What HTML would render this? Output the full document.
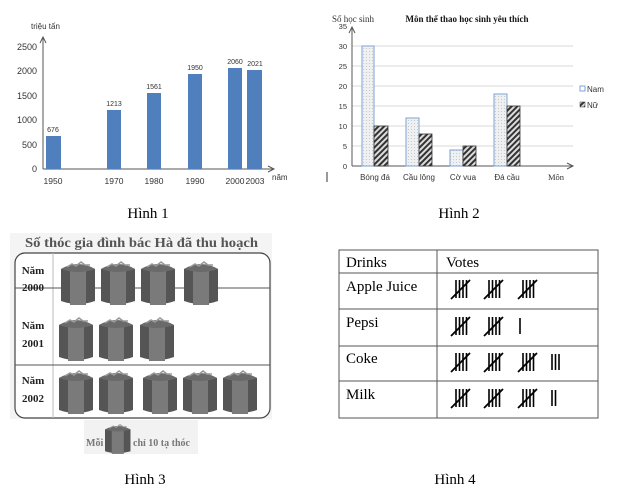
<!DOCTYPE html>
<html><head><meta charset="utf-8"><style>
html,body{margin:0;padding:0;background:#fff;width:618px;height:494px;overflow:hidden}
svg{display:block}
</style></head><body>
<svg width="618" height="494" viewBox="0 0 618 494" xmlns="http://www.w3.org/2000/svg">
<defs>
<pattern id="dots" width="3" height="3" patternUnits="userSpaceOnUse"><rect width="3" height="3" fill="#eef0f2"/><rect width="1" height="1" fill="#c8c8c8"/></pattern>
<pattern id="hatch" width="4" height="4" patternUnits="userSpaceOnUse" patternTransform="rotate(45)"><rect width="4" height="4" fill="#ddd"/><rect width="2" height="4" fill="#333"/></pattern>
<g id="cyl">
<path d="M0,8 Q17,0 34,8 L34,40 Q17,46 0,40 Z" fill="#555"/>
<rect x="9" y="8" width="16" height="36" fill="#7a7a7a"/>
<path d="M0,8 Q17,-2 34,8 Q17,14 0,8 Z" fill="#6a6a6a"/>
<path d="M6,6 l5,-3 l4,2 l5,-4 l4,3 l5,0" stroke="#999" fill="none" stroke-width="1.5"/>
</g>
<g id="tally" stroke="#000" stroke-width="1.6">
<line x1="5" y1="0" x2="5" y2="18"/><line x1="8.5" y1="0" x2="8.5" y2="18"/><line x1="12" y1="0" x2="12" y2="18"/><line x1="15.5" y1="0" x2="15.5" y2="18"/>
<line x1="0" y1="19" x2="19" y2="0" stroke-width="1.8"/>
</g>
</defs>

<!-- Chart 1 -->
<g font-family="Liberation Sans, sans-serif" fill="#333">
<text x="31" y="29" font-size="8">triệu tấn</text>
<line x1="43" y1="38" x2="43" y2="169" stroke="#555"/>
<path d="M40,43 L43,37 L46,43" fill="none" stroke="#555"/>
<line x1="43" y1="169" x2="274" y2="169" stroke="#555"/>
<path d="M268,166 L274,169 L268,172" fill="none" stroke="#555"/>
<g font-size="9" text-anchor="end">
<text x="37" y="50">2500</text><text x="37" y="74">2000</text><text x="37" y="99">1500</text><text x="37" y="123">1000</text><text x="37" y="148">500</text><text x="37" y="172">0</text>
</g>
<g fill="#4f7fbd">
<rect x="46" y="136" width="15" height="33"/>
<rect x="107" y="110" width="14" height="59"/>
<rect x="147" y="93" width="14" height="76"/>
<rect x="188" y="74" width="14" height="95"/>
<rect x="228" y="68" width="14" height="101"/>
<rect x="247" y="70" width="15" height="99"/>
</g>
<g font-size="7" text-anchor="middle">
<text x="53" y="132">676</text><text x="114" y="106">1213</text><text x="154" y="89">1561</text><text x="195" y="70">1950</text><text x="235" y="64">2060</text><text x="255" y="66">2021</text>
</g>
<g font-size="8.5" text-anchor="middle">
<text x="53" y="184">1950</text><text x="114" y="184">1970</text><text x="154" y="184">1980</text><text x="195" y="184">1990</text><text x="235" y="184">2000</text><text x="255" y="184">2003</text>
</g>
<text x="272" y="180" font-size="8">năm</text>
</g>
<text x="148" y="218" font-family="Liberation Serif, serif" font-size="15" text-anchor="middle">Hình 1</text>

<!-- Chart 2 -->
<g font-family="Liberation Sans, sans-serif" fill="#333">
<g stroke="#d8d8d8">
<line x1="352" y1="46" x2="573" y2="46"/><line x1="352" y1="66" x2="573" y2="66"/><line x1="352" y1="86" x2="573" y2="86"/><line x1="352" y1="106" x2="573" y2="106"/><line x1="352" y1="126" x2="573" y2="126"/><line x1="352" y1="146" x2="573" y2="146"/>
</g>
<line x1="352" y1="28" x2="352" y2="166" stroke="#555"/>
<path d="M349,33 L352,27 L355,33" fill="none" stroke="#555"/>
<line x1="352" y1="166" x2="573" y2="166" stroke="#555"/>
<path d="M567,163 L573,166 L567,169" fill="none" stroke="#555"/>
<text x="332" y="22" font-family="Liberation Serif, serif" font-size="9">Số học sinh</text>
<text x="467" y="22" font-family="Liberation Serif, serif" font-size="9" font-weight="bold" text-anchor="middle" fill="#111">Môn thể thao học sinh yêu thích</text>
<g font-size="7.5" text-anchor="end">
<text x="347" y="29">35</text><text x="347" y="49">30</text><text x="347" y="69">25</text><text x="347" y="89">20</text><text x="347" y="109">15</text><text x="347" y="129">10</text><text x="347" y="149">5</text><text x="347" y="169">0</text>
</g>
<g stroke="#7ea3d6" fill="url(#dots)">
<rect x="362" y="46" width="12" height="120"/>
<rect x="406" y="118" width="13" height="48"/>
<rect x="450" y="150" width="13" height="16"/>
<rect x="494" y="94" width="13" height="72"/>
</g>
<g stroke="#333" stroke-width="0.8" fill="url(#hatch)">
<rect x="374" y="126" width="14" height="40"/>
<rect x="419" y="134" width="13" height="32"/>
<rect x="463" y="146" width="13" height="20"/>
<rect x="507" y="106" width="13" height="60"/>
</g>
<g font-size="8" text-anchor="middle">
<text x="375" y="180">Bóng đá</text><text x="419" y="180">Cầu lông</text><text x="463" y="180">Cờ vua</text><text x="507" y="180">Đá cầu</text>
</g>
<text x="548" y="180" font-family="Liberation Serif, serif" font-size="8.5">Môn</text>
<rect x="580" y="86" width="5" height="5" fill="#fff" stroke="#7ea3d6"/>
<text x="587" y="92" font-size="8">Nam</text>
<rect x="580" y="102" width="5" height="5" fill="url(#hatch)" stroke="#333" stroke-width="0.5"/>
<text x="587" y="108" font-size="8">Nữ</text>
<line x1="327" y1="172" x2="327" y2="182" stroke="#333"/>
</g>
<text x="459" y="218" font-family="Liberation Serif, serif" font-size="15" text-anchor="middle">Hình 2</text>

<!-- Chart 3 -->
<rect x="10" y="233" width="262" height="186" fill="#f4f4f4"/>
<text x="25" y="247" font-family="Liberation Serif, serif" font-size="14" font-weight="bold" fill="#555" textLength="233" lengthAdjust="spacingAndGlyphs">Số thóc gia đình bác Hà đã thu hoạch</text>
<rect x="15" y="253" width="255" height="165" rx="10" fill="#fff" stroke="#444" stroke-width="1.2"/>
<line x1="53" y1="253" x2="53" y2="418" stroke="#bbb"/>
<line x1="15" y1="288" x2="270" y2="288" stroke="#555"/>
<line x1="15" y1="365" x2="270" y2="365" stroke="#555"/>
<g font-family="Liberation Serif, serif" font-size="11" font-weight="bold" fill="#222" text-anchor="middle">
<text x="33" y="274">Năm</text><text x="33" y="291">2000</text>
<text x="33" y="329">Năm</text><text x="33" y="347">2001</text>
<text x="33" y="384">Năm</text><text x="33" y="402">2002</text>
</g>
<use href="#cyl" x="61" y="261"/><use href="#cyl" x="101" y="261"/><use href="#cyl" x="141" y="261"/><use href="#cyl" x="184" y="261"/>
<use href="#cyl" x="59" y="317"/><use href="#cyl" x="99" y="317"/><use href="#cyl" x="140" y="317"/>
<use href="#cyl" x="59" y="370"/><use href="#cyl" x="99" y="370"/><use href="#cyl" x="143" y="370"/><use href="#cyl" x="183" y="370"/><use href="#cyl" x="223" y="370"/>
<rect x="84" y="420" width="114" height="34" fill="#f2f2f2"/>
<g transform="translate(105,424) scale(0.75,0.68)"><use href="#cyl"/></g>
<g font-family="Liberation Serif, serif" font-size="10" font-weight="bold" fill="#777">
<text x="86" y="446">Mỗi</text><text x="133" y="446">chỉ 10 tạ thóc</text>
</g>
<text x="145" y="484" font-family="Liberation Serif, serif" font-size="15" text-anchor="middle">Hình 3</text>

<!-- Table -->
<g stroke="#555" stroke-width="1" fill="none">
<rect x="339" y="250" width="259" height="168"/>
<line x1="437" y1="250" x2="437" y2="418"/>
<line x1="339" y1="273" x2="598" y2="273"/>
<line x1="339" y1="309" x2="598" y2="309"/>
<line x1="339" y1="346" x2="598" y2="346"/>
<line x1="339" y1="381" x2="598" y2="381"/>
</g>
<g font-family="Liberation Serif, serif" font-size="15" fill="#000">
<text x="346" y="267">Drinks</text><text x="446" y="267">Votes</text>
<text x="346" y="291">Apple Juice</text>
<text x="346" y="327">Pepsi</text>
<text x="346" y="363">Coke</text>
<text x="346" y="399">Milk</text>
</g>
<use href="#tally" x="451" y="280"/><use href="#tally" x="484" y="280"/><use href="#tally" x="518" y="280"/>
<use href="#tally" x="451" y="317"/><use href="#tally" x="484" y="317"/>
<line x1="520" y1="318" x2="520" y2="334" stroke="#000" stroke-width="1.6"/>
<use href="#tally" x="451" y="353"/><use href="#tally" x="484" y="353"/><use href="#tally" x="518" y="353"/>
<g stroke="#000" stroke-width="1.6"><line x1="552" y1="354" x2="552" y2="370"/><line x1="555.5" y1="354" x2="555.5" y2="370"/><line x1="559" y1="354" x2="559" y2="370"/></g>
<use href="#tally" x="451" y="389"/><use href="#tally" x="484" y="389"/><use href="#tally" x="518" y="389"/>
<g stroke="#000" stroke-width="1.6"><line x1="552" y1="390" x2="552" y2="406"/><line x1="555.5" y1="390" x2="555.5" y2="406"/></g>
<text x="455" y="484" font-family="Liberation Serif, serif" font-size="15" text-anchor="middle">Hình 4</text>
</svg>
</body></html>
